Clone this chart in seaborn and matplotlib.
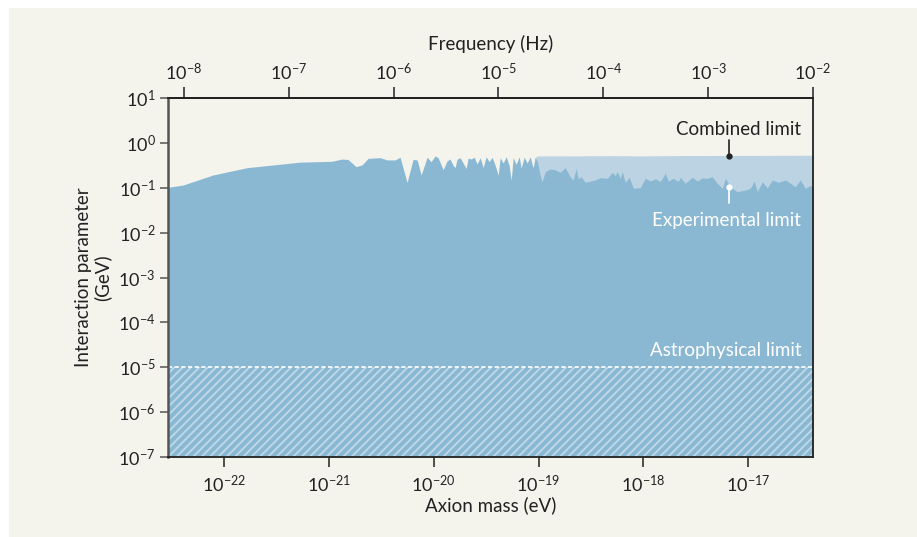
import numpy as np
import matplotlib
matplotlib.use('Agg')
import matplotlib.pyplot as plt
import seaborn as sns
from matplotlib.ticker import FixedLocator, FuncFormatter, NullLocator

# values (log10 axion mass in eV, log10 interaction parameter in GeV)
exp_log_mass = [
    -22.534, -22.391, -22.105, -21.781, -21.275, -20.969, -20.874, -20.817, -20.740, -20.683,
    -20.626, -20.511, -20.445, -20.368, -20.321, -20.254, -20.197, -20.158, -20.120, -20.063,
    -20.025, -19.987, -19.958, -19.910, -19.872, -19.844, -19.815, -19.796, -19.777, -19.748,
    -19.719, -19.691, -19.672, -19.643, -19.615, -19.586, -19.557, -19.528, -19.500, -19.471,
    -19.443, -19.414, -19.385, -19.366, -19.338, -19.309, -19.281, -19.261, -19.242, -19.214,
    -19.185, -19.166, -19.137, -19.109, -19.080, -19.052, -19.033, -19.013, -18.985, -18.966,
    -18.937, -18.889, -18.842, -18.794, -18.746, -18.699, -18.670, -18.641, -18.622, -18.594,
    -18.555, -18.508, -18.460, -18.412, -18.345, -18.298, -18.269, -18.250, -18.221, -18.202,
    -18.174, -18.135, -18.097, -18.031, -17.983, -17.935, -17.887, -17.840, -17.792, -17.763,
    -17.716, -17.668, -17.649, -17.601, -17.534, -17.487, -17.439, -17.391, -17.344, -17.296,
    -17.248, -17.219, -17.172, -17.107, -17.027, -16.981, -16.943, -16.914, -16.866, -16.819,
    -16.771, -16.714, -16.647, -16.599, -16.552, -16.504, -16.456, -16.408, -16.383,
]
exp_log_g = [
    -0.99, -0.94, -0.716, -0.553, -0.43, -0.41, -0.36, -0.37, -0.53, -0.49,
    -0.345, -0.33, -0.38, -0.38, -0.32, -0.88, -0.37, -0.38, -0.716, -0.32,
    -0.42, -0.29, -0.33, -0.60, -0.40, -0.36, -0.50, -0.55, -0.36, -0.33,
    -0.45, -0.57, -0.34, -0.36, -0.32, -0.47, -0.33, -0.55, -0.31, -0.42,
    -0.32, -0.50, -0.72, -0.33, -0.45, -0.31, -0.50, -0.83, -0.33, -0.48,
    -0.31, -0.56, -0.32, -0.45, -0.31, -0.56, -0.33, -0.40, -0.72, -0.865,
    -0.642, -0.582, -0.60, -0.656, -0.553, -0.754, -0.827, -0.567, -0.80, -0.754,
    -0.879, -0.85, -0.83, -0.776, -0.79, -0.656, -0.73, -0.64, -0.79, -0.64,
    -0.879, -0.77, -1.012, -1.00, -0.789, -0.85, -0.80, -0.86, -0.678, -0.85,
    -0.79, -0.86, -0.767, -0.90, -0.767, -0.85, -0.78, -0.79, -0.754, -0.90,
    -1.012, -0.79, -0.97, -1.088, -1.05, -1.012, -0.85, -1.088, -0.865, -1.00,
    -0.827, -0.88, -0.827, -0.90, -0.976, -0.827, -1.012, -0.95, -1.00,
]

comb_log_mass = [-19.035, -19.013, -18.70, -18.30, -18.00, -17.60, -17.20, -16.80, -16.383]
comb_log_g = [-0.33, -0.292, -0.29, -0.285, -0.29, -0.282, -0.28, -0.278, -0.275]

astro_limit = 1e-5
y_min, y_max = 1e-7, 1e1
mass_min, mass_max = 10 ** -22.534, 10 ** -16.383

mass_ticks = [1e-22, 1e-21, 1e-20, 1e-19, 1e-18, 1e-17]
freq_ticks = [1e-8, 1e-7, 1e-6, 1e-5, 1e-4, 1e-3, 1e-2]
g_ticks = [1e1, 1e0, 1e-1, 1e-2, 1e-3, 1e-4, 1e-5, 1e-6, 1e-7]

EV_TO_HZ = 2.417989e14

exp_mass = 10 ** np.array(exp_log_mass)
exp_g = 10 ** np.array(exp_log_g)
comb_mass = 10 ** np.array(comb_log_mass)
comb_g = 10 ** np.array(comb_log_g)

sns.set_theme(style='ticks')
plt.rcParams['font.family'] = ['Lato', 'DejaVu Sans']
plt.rcParams['mathtext.fontset'] = 'custom'
plt.rcParams['mathtext.rm'] = 'Lato'
plt.rcParams['mathtext.it'] = 'Lato:italic'
plt.rcParams['mathtext.bf'] = 'Lato:bold'
plt.rcParams['mathtext.default'] = 'regular'
plt.rcParams['hatch.linewidth'] = 1.3
plt.rcParams['hatch.color'] = '#c0d9e8'

bg = '#f4f3ec'
dark_blue = '#8ab8d3'
light_blue = '#bcd3e3'
ink = '#222222'
fs = 13.5

fig = plt.figure(figsize=(9.17, 5.37), dpi=100, facecolor='white')
fig.patches.append(plt.Rectangle((9 / 917, 0), 1, 1 - 8 / 537, transform=fig.transFigure,
                                 facecolor=bg, edgecolor='none', zorder=-10))
ax = fig.add_axes([168 / 917, 1 - 457 / 537, 645 / 917, 359 / 537])
ax.set_facecolor(bg)
ax.set_xscale('log')
ax.set_yscale('log')

# combined limit (light) then experimental limit (dark) on top
ax.fill_between(comb_mass, y_min, comb_g, color=light_blue, linewidth=0, zorder=1)
ax.fill_between(exp_mass, y_min, exp_g, color=dark_blue, linewidth=0, zorder=2)

# astrophysical limit: hatched band and dashed line
ax.fill_between([mass_min, mass_max], y_min, astro_limit, facecolor='none',
                hatch='////', edgecolor='#c0d9e8', linewidth=0, zorder=3)
ax.axhline(astro_limit, color='white', linestyle=(0, (2.5, 1.5)), linewidth=1.2, zorder=4)

ax.set_xlim(mass_min, mass_max)
ax.set_ylim(y_min, y_max)

fmt = FuncFormatter(lambda v, p: '$10^{%d}$' % int(round(np.log10(v))))
ax.xaxis.set_major_locator(FixedLocator(mass_ticks))
ax.xaxis.set_minor_locator(NullLocator())
ax.xaxis.set_major_formatter(fmt)
ax.yaxis.set_major_locator(FixedLocator(g_ticks))
ax.yaxis.set_minor_locator(NullLocator())
ax.yaxis.set_major_formatter(fmt)

for s in ax.spines.values():
    s.set_color(ink)
    s.set_linewidth(1.3)
    s.set_zorder(6)
ax.spines['left'].set_color('#555555')
ax.spines['left'].set_linewidth(1.8)

ax.tick_params(axis='x', direction='out', length=7, width=1.1, color=ink,
               labelsize=13, labelcolor=ink, pad=5)
ax.tick_params(axis='y', direction='out', length=6, width=1.1, color='#555555',
               labelsize=13, labelcolor=ink, pad=3)

secax = ax.secondary_xaxis('top', functions=(lambda m: m * EV_TO_HZ, lambda f: f / EV_TO_HZ))
secax.xaxis.set_major_locator(FixedLocator(freq_ticks))
secax.xaxis.set_minor_locator(NullLocator())
secax.xaxis.set_major_formatter(fmt)
secax.tick_params(axis='x', direction='out', length=8, width=1.1, color=ink,
                  labelsize=13, labelcolor=ink, pad=3)
secax.spines['top'].set_color(ink)
secax.spines['top'].set_linewidth(1.3)
secax.set_xlabel('Frequency (Hz)', fontsize=fs, color=ink, labelpad=8)

ax.set_xlabel('Axion mass (eV)', fontsize=fs, color=ink, labelpad=1)
ax.set_ylabel('Interaction parameter\n(GeV)', fontsize=fs, color=ink, labelpad=5,
              linespacing=1.1)

# labels for each limit
mark_m = 10 ** -17.181
ax.text(10 ** -16.494, 10 ** 0.287, 'Combined limit', ha='right', va='center',
        fontsize=fs, color=ink, zorder=7)
ax.plot([mark_m, mark_m], [10 ** 0.064, 10 ** -0.28], color=ink, linewidth=1.2, zorder=7)
ax.plot([mark_m], [10 ** -0.285], 'o', color=ink, markersize=3.5, zorder=7)

ax.text(10 ** -16.494, 10 ** -1.719, 'Experimental limit', ha='right', va='center',
        fontsize=fs, color='white', zorder=7)
ax.plot([mark_m, mark_m], [10 ** -0.98, 10 ** -1.333], color='white', linewidth=1.2, zorder=7)
ax.plot([mark_m], [10 ** -0.977], 'o', color='white', markersize=3.5, zorder=7)

ax.text(10 ** -16.494, 10 ** -4.616, 'Astrophysical limit', ha='right', va='center',
        fontsize=fs, color='white', zorder=7)

fig.savefig('out.png', dpi=100, facecolor=fig.get_facecolor())
